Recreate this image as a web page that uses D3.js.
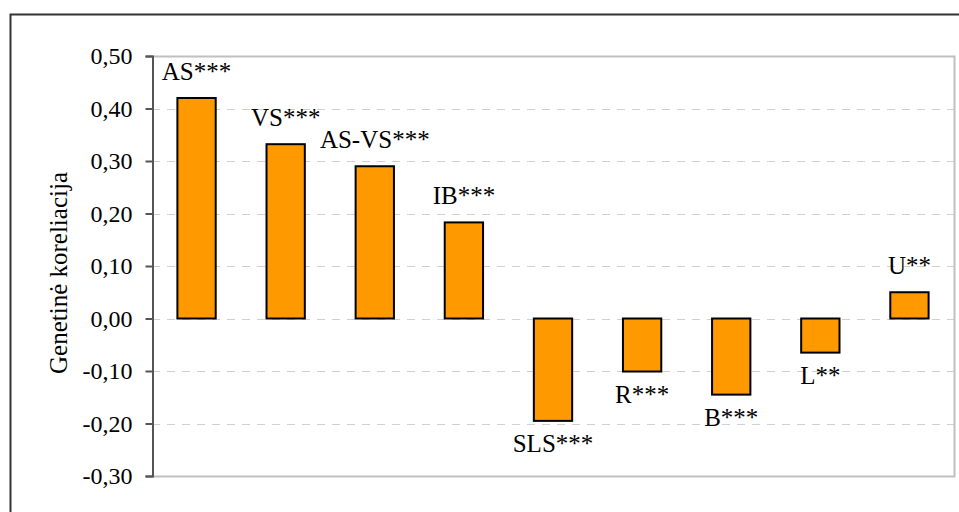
<!doctype html>
<html>
<head>
<meta charset="UTF-8">
<script src="https://d3js.org/d3.v7.min.js"></script>
<style>
  body { margin: 0; background: #fff; }
</style>
</head>
<body>
<svg id="chart" width="959" height="512"></svg>
<script>
// data
var categories = ["AS***", "VS***", "AS-VS***", "IB***", "SLS***", "R***", "B***", "L**", "U**"];
var correlations = [0.42, 0.332, 0.29, 0.183, -0.195, -0.101, -0.145, -0.065, 0.05];
var tickValues = [0.5, 0.4, 0.3, 0.2, 0.1, 0.0, -0.1, -0.2, -0.3];

var serif = "Liberation Serif";
var svg = d3.select("#chart");

// outer frame
svg.append("rect")
  .attr("x", 10.5).attr("y", 14.5)
  .attr("width", 960).attr("height", 520)
  .attr("fill", "none").attr("stroke", "#333").attr("stroke-width", 2);

var plotLeft = 152, plotRight = 954, plotTop = 56, plotBottom = 476;

var x = d3.scaleBand().domain(categories).range([plotLeft, plotRight]).paddingInner(0.57).paddingOuter(0.285);
var y = d3.scaleLinear().domain([-0.3, 0.5]).range([plotBottom, plotTop]);

// gridlines
svg.append("g").selectAll("line")
  .data(tickValues.filter(function(d) { return d > -0.3 && d < 0.5; }))
  .enter().append("line")
    .attr("x1", plotLeft).attr("x2", plotRight)
    .attr("y1", function(d) { return Math.round(y(d)) + 0.5; })
    .attr("y2", function(d) { return Math.round(y(d)) + 0.5; })
    .attr("stroke", "#d0d0d0").attr("stroke-dasharray", "8,7");

// plot area border (top, right, bottom)
svg.append("path")
  .attr("d", "M" + plotLeft + "," + (plotTop + 0.5) + "H" + (plotRight + 0.5) + "V" + (plotBottom + 0.5) + "H" + plotLeft)
  .attr("fill", "none").attr("stroke", "#c0c0c0").attr("stroke-width", 2);

// bars
svg.append("g").selectAll("rect")
  .data(correlations)
  .enter().append("rect")
    .attr("x", function(d, i) { return x(categories[i]); })
    .attr("y", function(d) { return y(Math.max(0, d)); })
    .attr("width", x.bandwidth())
    .attr("height", function(d) { return Math.abs(y(d) - y(0)); })
    .attr("fill", "#ff9900").attr("stroke", "#000").attr("stroke-width", 2);

// bar labels
svg.append("g").selectAll("text")
  .data(correlations)
  .enter().append("text")
    .attr("x", function(d, i) { return x(categories[i]) + x.bandwidth() / 2; })
    .attr("y", function(d) { return d >= 0 ? y(d) - 18 : y(d) + 31; })
    .attr("text-anchor", "middle")
    .attr("fill", "#000")
    .style("font-family", serif)
    .style("font-size", "25px")
    .text(function(d, i) { return categories[i]; });

// y axis
var yAxis = d3.axisLeft(y).tickValues(tickValues).tickSize(7).tickPadding(13)
  .tickFormat(function(d) { return d3.format(".2f")(d).replace(".", ",").replace("−", "-"); });
var ga = svg.append("g").attr("transform", "translate(" + (plotLeft + 0.5) + ",0)").call(yAxis);
ga.select(".domain").attr("stroke", "#555").attr("stroke-width", 2);
ga.selectAll(".tick line").attr("stroke", "#555").attr("stroke-width", 2);
ga.selectAll(".tick text")
  .style("font-family", serif).style("font-size", "24px").attr("fill", "#000");

// axis title
svg.append("text")
  .attr("transform", "translate(67,273) rotate(-90)")
  .attr("text-anchor", "middle")
  .attr("fill", "#000")
  .style("font-family", serif)
  .style("font-size", "25px")
  .text("Genetinė koreliacija");
</script>
</body>
</html>
